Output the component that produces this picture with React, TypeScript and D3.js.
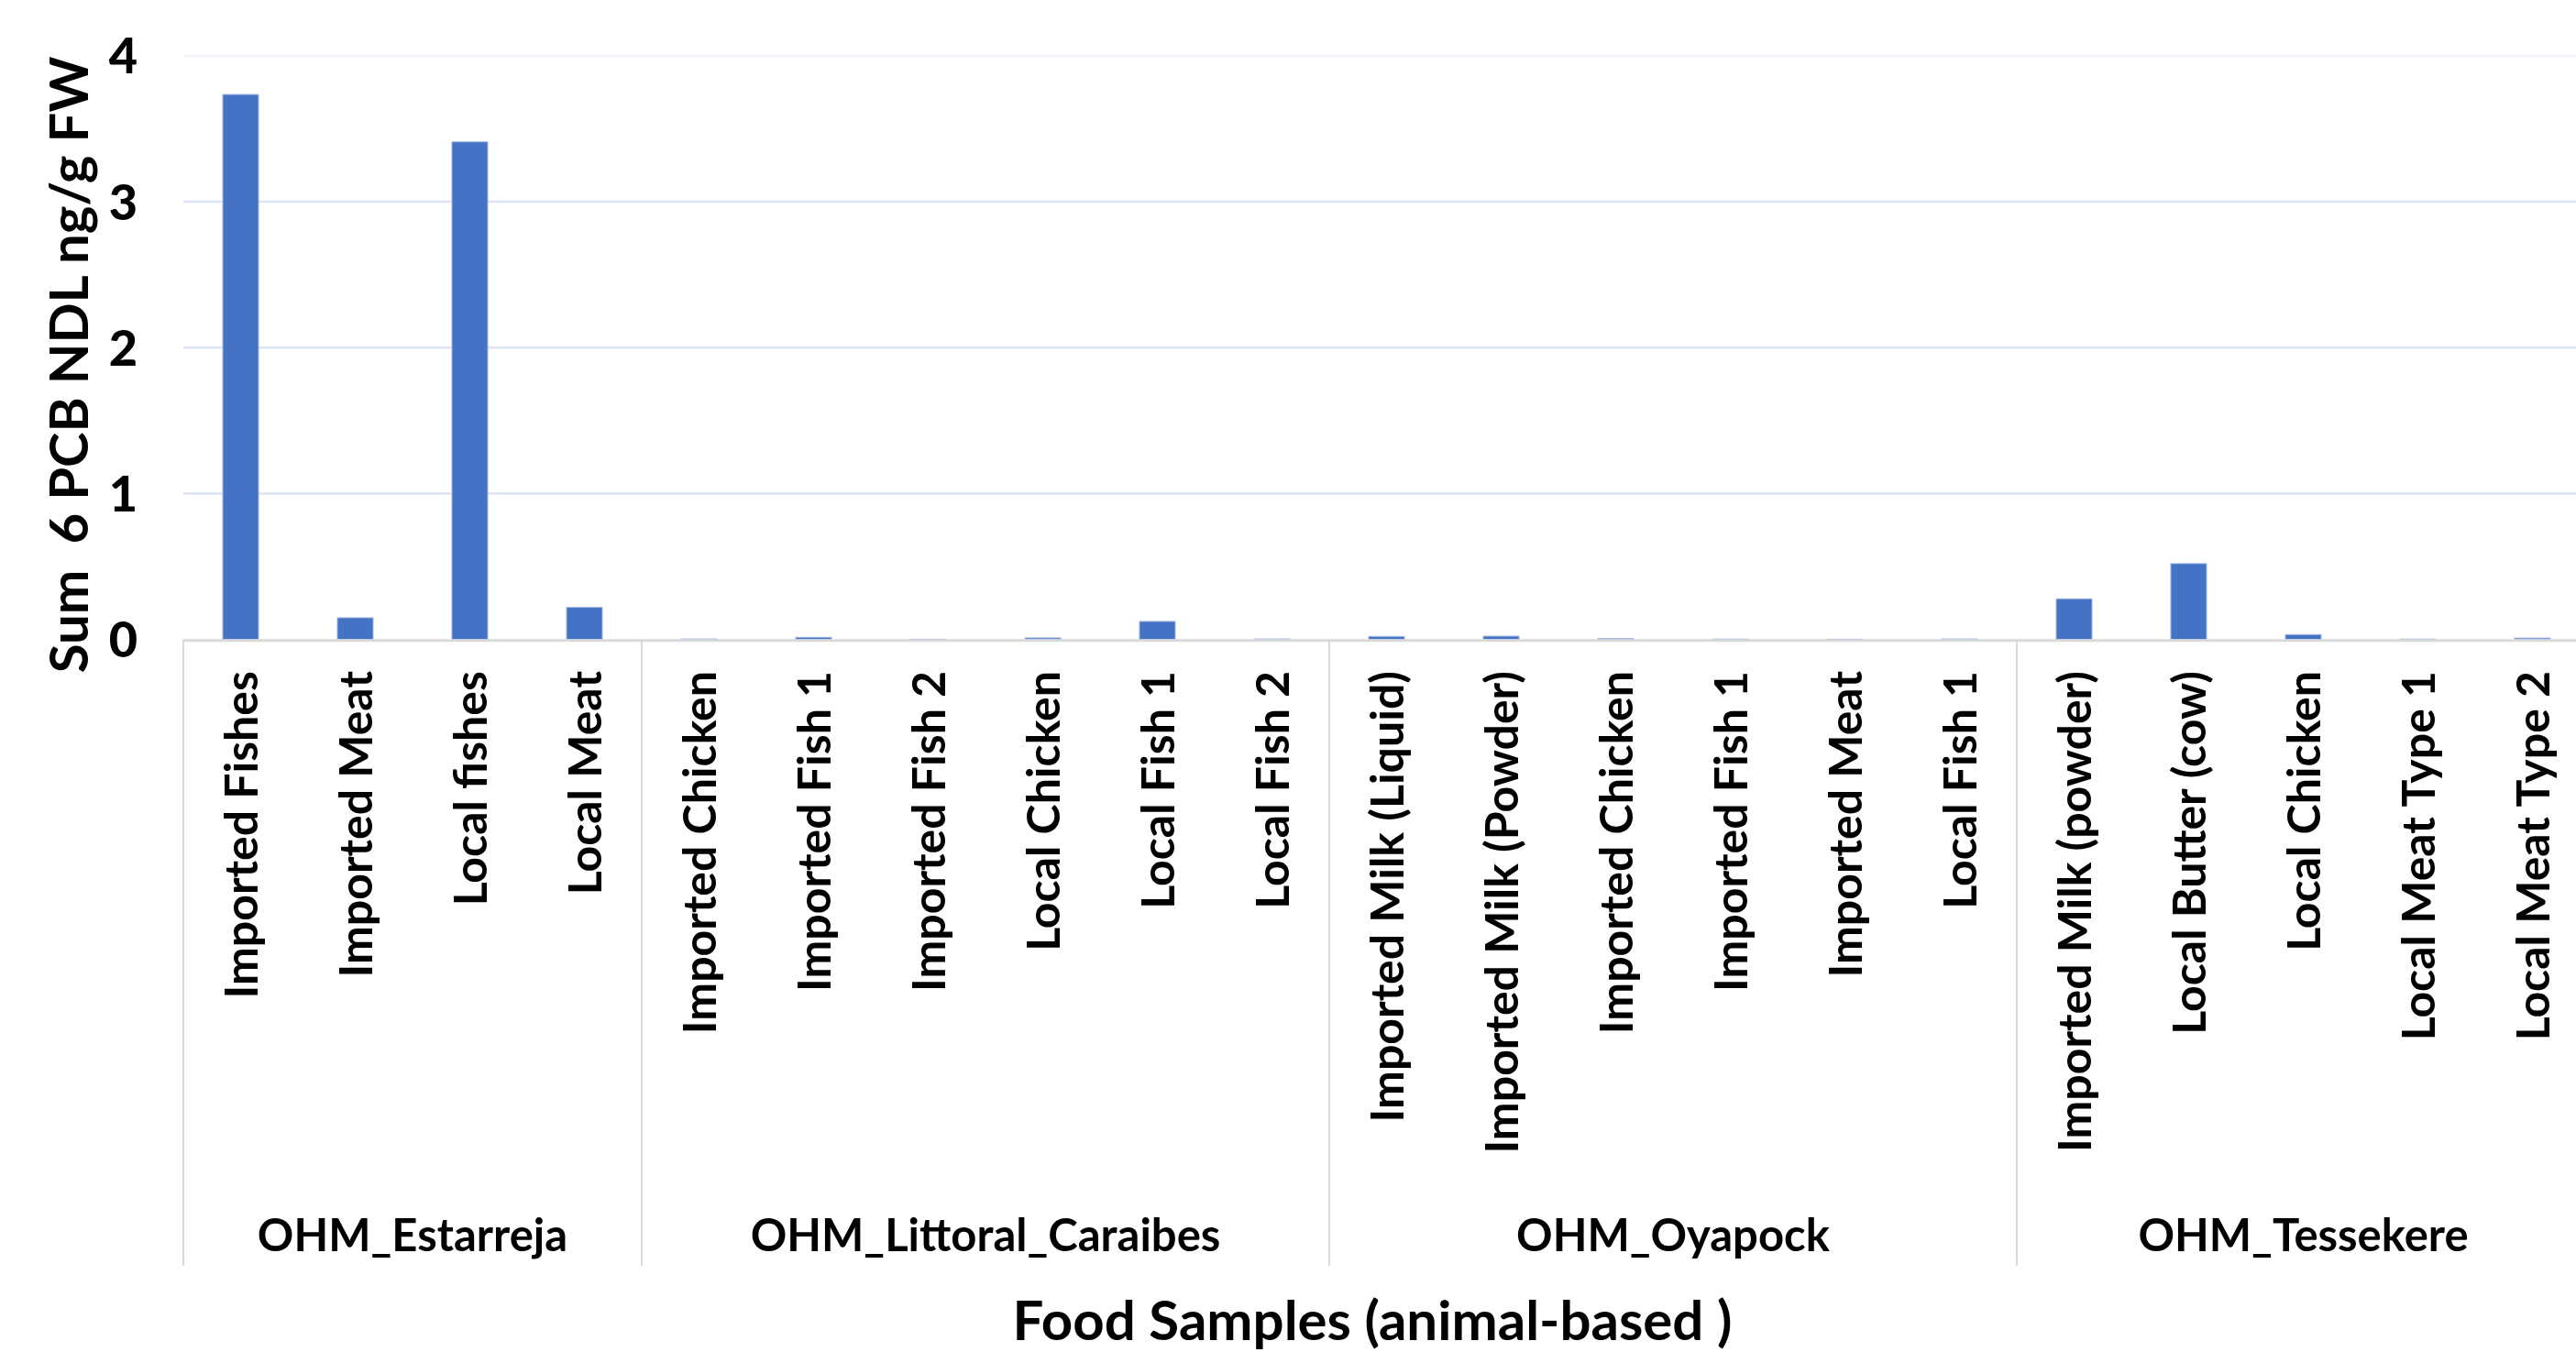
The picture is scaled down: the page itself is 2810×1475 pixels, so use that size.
import React, { useEffect, useRef } from "react";
import * as d3 from "d3";

// sample groups and their categories
const groups = ["OHM_Estarreja", "OHM_Littoral_Caraibes", "OHM_Oyapock", "OHM_Tessekere"];

const estarrejaLabels = ["Imported Fishes", "Imported Meat", "Local fishes", "Local Meat"];
const estarrejaValues = [3.735, 0.149, 3.41, 0.22];

const caraibesLabels = [
  "Imported Chicken",
  "Imported Fish 1",
  "Imported Fish 2",
  "Local Chicken",
  "Local Fish 1",
  "Local Fish 2",
];
const caraibesValues = [0.004, 0.015, 0.002, 0.011, 0.124, 0.004];

const oyapockLabels = [
  "Imported Milk (Liquid)",
  "Imported Milk (Powder)",
  "Imported Chicken",
  "Imported Fish 1",
  "Imported Meat",
  "Local Fish 1",
];
const oyapockValues = [0.021, 0.023, 0.006, 0.003, 0.002, 0.004];

const tessekereLabels = [
  "Imported Milk (powder)",
  "Local Butter (cow)",
  "Local Chicken",
  "Local Meat Type 1",
  "Local Meat Type 2",
];
const tessekereValues = [0.279, 0.52, 0.034, 0.003, 0.01];

const yTicks = [0, 1, 2, 3, 4];

interface Row {
  idx: number;
  label: string;
  value: number;
  group: string;
}

const App: React.FC = () => {
  const svgRef = useRef<SVGSVGElement>(null);

  useEffect(() => {
    if (!svgRef.current) return;
    const svg = d3.select(svgRef.current);
    const width = 2810;
    const height = 1475;
    svg.attr("width", width).attr("height", height);

    const font = "Lato, 'Open Sans', sans-serif";

    const perGroup: [string, string[], number[]][] = [
      [groups[0], estarrejaLabels, estarrejaValues],
      [groups[1], caraibesLabels, caraibesValues],
      [groups[2], oyapockLabels, oyapockValues],
      [groups[3], tessekereLabels, tessekereValues],
    ];
    const rows: Row[] = [];
    perGroup.forEach(([g, labels, values]) => {
      labels.forEach((l, i) => rows.push({ idx: rows.length, label: l, value: values[i], group: g }));
    });

    const plotLeft = 200;
    const plotRight = 2825; // the plot area runs a little past the picture edge
    const x = d3
      .scaleBand<number>()
      .domain(rows.map((r) => r.idx))
      .range([plotLeft, plotRight])
      .paddingInner(0.688)
      .paddingOuter(0.344);

    const y = d3.scaleLinear().domain([0, 4]).range([697.7, 60.9]);

    const g = svg.append("g");

    // gridlines
    g.selectAll(".grid")
      .data(yTicks.filter((t) => t > 0))
      .enter()
      .append("line")
      .attr("x1", plotLeft)
      .attr("x2", width)
      .attr("y1", (d) => y(d))
      .attr("y2", (d) => y(d))
      .attr("stroke", (d) => (d === 4 ? "#f3f3f9" : "#dbe3f4"))
      .attr("stroke-width", 2.5);

    // y tick labels
    g.selectAll(".ytick")
      .data(yTicks)
      .enter()
      .append("text")
      .attr("x", 150)
      .attr("y", (d) => y(d))
      .attr("dy", "0.36em")
      .attr("text-anchor", "end")
      .attr("font-family", font)
      .attr("font-weight", 900)
      .attr("font-size", 54)
      .attr("fill", "#000")
      .text((d) => d);

    // bars
    g.selectAll(".bar")
      .data(rows)
      .enter()
      .append("rect")
      .attr("x", (d) => x(d.idx)!)
      .attr("width", x.bandwidth())
      .attr("y", (d) => y(d.value))
      .attr("height", (d) => y(0) - y(d.value))
      .attr("fill", "#4472c4")
      .attr("stroke", "#9db3e0")
      .attr("stroke-width", 1);

    // baseline axis
    g.append("line")
      .attr("x1", plotLeft)
      .attr("x2", width)
      .attr("y1", y(0) + 1)
      .attr("y2", y(0) + 1)
      .attr("stroke", "#d9d9d9")
      .attr("stroke-width", 3);

    // group dividers
    const step = x.step();
    const bounds: { name: string; start: number; end: number }[] = [];
    let cursor = 0;
    perGroup.forEach(([name, labels]) => {
      bounds.push({ name, start: cursor, end: cursor + labels.length });
      cursor += labels.length;
    });
    const bx = (i: number) => plotLeft + i * step;

    g.selectAll(".divider")
      .data([0, ...bounds.map((b) => b.end)])
      .enter()
      .append("line")
      .attr("x1", (d) => bx(d))
      .attr("x2", (d) => bx(d))
      .attr("y1", y(0))
      .attr("y2", 1381)
      .attr("stroke", "#d9d9d9")
      .attr("stroke-width", 2);

    // category labels, rotated
    g.selectAll(".cat")
      .data(rows)
      .enter()
      .append("text")
      .attr("transform", (d) => `translate(${x(d.idx)! + x.bandwidth() / 2},732) rotate(-90)`)
      .attr("dy", "0.36em")
      .attr("text-anchor", "end")
      .attr("font-family", font)
      .attr("font-weight", 700)
      .attr("font-size", 50)
      .attr("fill", "#000")
      .text((d) => d.label);

    // group labels
    g.selectAll(".grp")
      .data(bounds)
      .enter()
      .append("text")
      .attr("x", (d) => (bx(d.start) + bx(d.end)) / 2)
      .attr("y", 1365)
      .attr("text-anchor", "middle")
      .attr("font-family", font)
      .attr("font-weight", 700)
      .attr("font-size", 49)
      .attr("fill", "#000")
      .text((d) => d.name);

    // y axis title
    g.append("text")
      .attr("transform", "translate(96,398) rotate(-90)")
      .attr("text-anchor", "middle")
      .attr("font-family", font)
      .attr("font-weight", 700)
      .attr("font-size", 58)
      .attr("fill", "#000")
      .style("white-space", "pre")
      .text("Sum  6 PCB NDL ng/g FW");

    // x axis title
    g.append("text")
      .attr("x", 1497)
      .attr("y", 1462)
      .attr("text-anchor", "middle")
      .attr("font-family", font)
      .attr("font-weight", 700)
      .attr("font-size", 60)
      .attr("fill", "#000")
      .text("Food Samples (animal-based )");

    return () => {
      svg.selectAll("*").remove();
    };
  }, []);

  return (
    <svg
      ref={svgRef}
      style={{ position: "absolute", left: 0, top: 0, background: "#fff", display: "block" }}
    />
  );
};

export default App;
